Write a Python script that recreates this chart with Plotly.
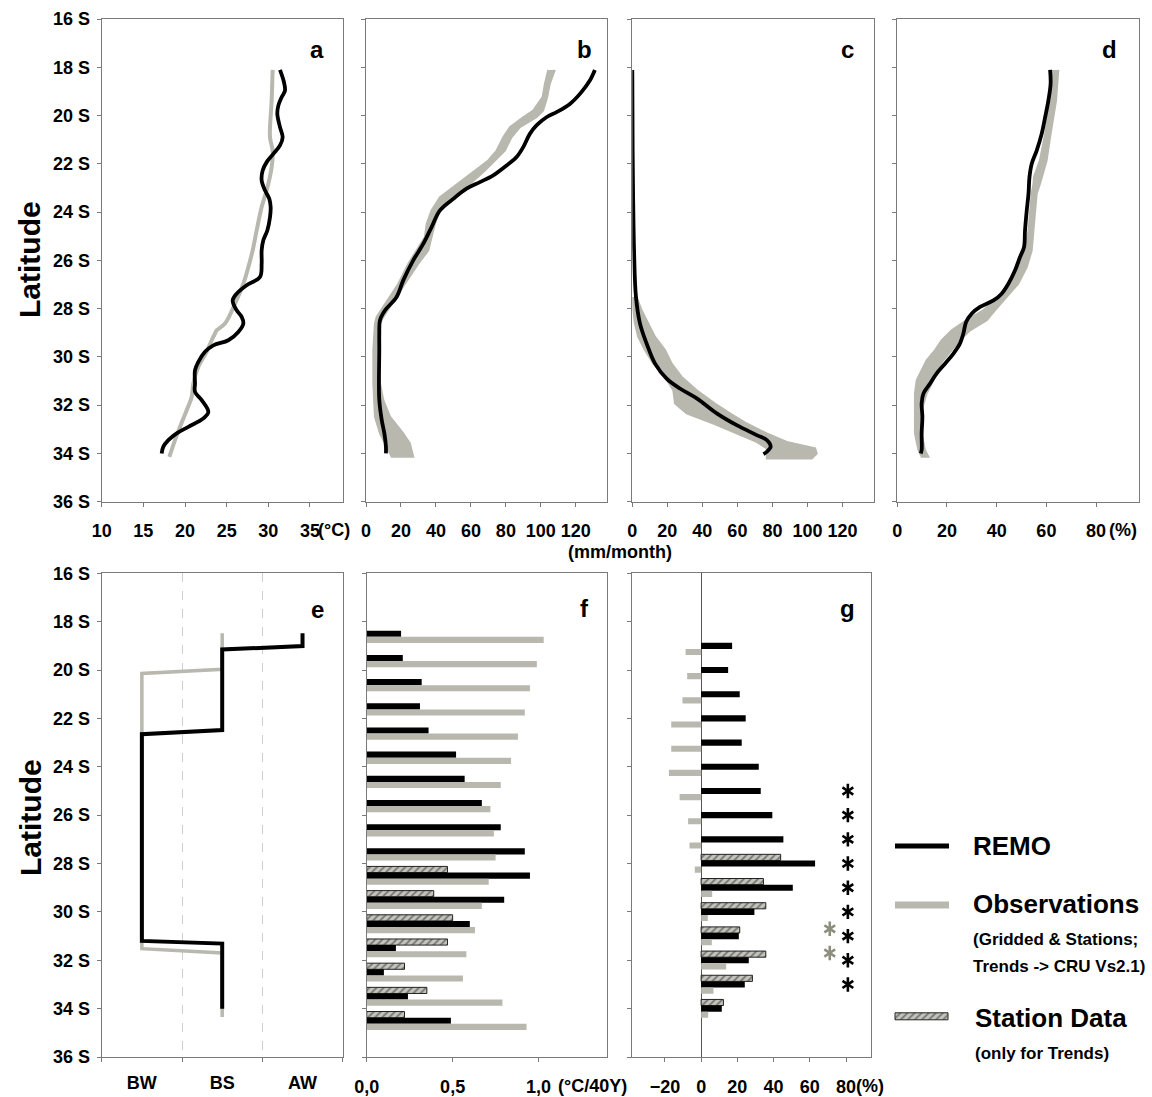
import plotly.graph_objects as go

W, H = 1152, 1097
FONT = "Liberation Sans, Arial, Helvetica, sans-serif"
BLACK = "#000000"
GREY = "#b8b8af"
AXC = "#7a7a7a"

# ---------------- data ----------------
lat_tickvals = [16, 18, 20, 22, 24, 26, 28, 30, 32, 34, 36]
lat_ticktext = ["16 S", "18 S", "20 S", "22 S", "24 S", "26 S", "28 S", "30 S", "32 S", "34 S", "36 S"]

# (a) temperature, degC
a_remo_lat = [18.11, 18.62, 18.97, 19.24, 19.59, 19.93, 20.48, 20.90, 21.24, 21.59, 21.93, 22.28, 22.69, 23.10, 23.45,
              23.79, 24.21, 24.76, 25.17, 25.59, 26.14, 26.69, 27.03, 27.38, 27.66, 28.07, 28.34, 28.62, 28.97, 29.31,
              29.52, 29.79, 30.21, 30.55, 31.10, 31.45, 31.79, 32.28, 32.55, 32.90, 33.17, 33.45, 33.72, 34.0]
a_remo_val = [31.4, 31.88, 32.0, 31.6, 31.2, 31.08, 31.4, 31.72, 31.4, 30.6, 29.8, 29.32, 29.2, 29.6, 30.12,
              30.28, 30.2, 29.88, 29.4, 29.2, 29.2, 29.0, 27.4, 26.2, 25.72, 26.2, 26.8, 27.0, 26.4, 25.2,
              23.4, 22.4, 21.6, 21.2, 21.2, 21.2, 22.0, 22.8, 22.2, 20.4, 19.0, 18.0, 17.4, 17.2]
a_obs_lat = [18.11, 19.38, 20.90, 21.45, 22.14, 23.10, 23.79, 24.76, 25.59, 26.28, 26.97, 27.79, 28.62, 28.90, 29.03,
             29.31, 29.79, 30.41, 31.10, 31.66, 32.21, 32.90, 33.45, 34.14]
a_obs_val = [30.52, 30.4, 30.2, 30.52, 30.4, 29.8, 29.2, 28.6, 28.12, 27.6, 27.0, 26.0, 24.8, 23.8, 23.6,
             23.2, 22.6, 21.6, 21.0, 20.8, 20.2, 19.4, 18.8, 18.12]

# (b) precipitation, mm/month
b_remo_lat = [18.11, 18.55, 19.03, 19.52, 19.86, 20.07, 20.41, 20.76, 21.31, 21.72, 22.07, 22.48, 22.76, 23.03, 23.45,
              23.93, 24.62, 25.31, 26.0, 26.83, 27.52, 28.07, 28.48, 29.03, 29.72, 31.10, 31.79, 32.62, 33.17, 33.72, 34.0]
b_remo_val = [130.9, 128.0, 123.2, 116.6, 109.0, 103.2, 97.5, 93.7, 89.9, 86.1, 80.4, 72.8, 65.1, 57.5, 49.9,
              42.3, 37.5, 32.8, 27.0, 21.3, 17.5, 10.9, 8.0, 7.6, 7.6, 7.4, 7.6, 9.0, 10.5, 11.4, 11.4]
b_obs_lat = [18.11, 18.69, 19.24, 19.79, 20.07, 20.48, 20.90, 21.45, 21.86, 22.28, 22.83, 23.38, 23.93, 24.48, 25.03,
             25.59, 26.14, 26.97, 27.79, 28.34, 28.62, 29.72, 31.10, 31.79, 32.48, 33.17, 33.59, 34.14]
b_obs_lo = [104.2, 102.3, 101.0, 95.6, 89.9, 82.3, 78.5, 74.7, 69.9, 62.3, 51.8, 42.3, 37.5, 34.7, 33.7,
            29.0, 24.2, 18.5, 10.9, 6.1, 5.1, 4.2, 4.2, 4.6, 5.1, 8.0, 10.9, 14.7]
b_obs_hi = [108.0, 105.1, 103.6, 101.3, 97.5, 88.0, 83.2, 79.4, 73.7, 68.0, 59.4, 48.0, 42.3, 39.4, 37.5,
            35.6, 29.9, 22.3, 14.7, 9.9, 8.0, 7.0, 8.0, 9.9, 13.7, 21.3, 25.1, 27.0]

# (c) precipitation, mm/month
c_remo_lat = [18.11, 21.45, 25.59, 27.52, 28.62, 29.45, 30.28, 30.90, 31.31, 31.72, 32.34, 32.83, 33.24, 33.45, 33.72,
              33.93, 34.03]
c_remo_val = [0.0, 0.2, 1.0, 2.1, 4.4, 8.2, 13.0, 19.6, 27.2, 36.8, 48.2, 59.6, 71.0, 76.8, 79.0, 76.8, 74.9]
c_obs_lat = [27.52, 28.07, 28.62, 29.17, 29.72, 30.28, 30.83, 31.38, 31.93, 32.34, 32.76, 33.17, 33.52, 33.79, 34.0, 34.21]
c_obs_lo = [0.2, 0.6, 1.5, 3.4, 7.2, 12.0, 18.7, 23.4, 24.4, 31.0, 46.3, 59.6, 71.0, 76.8, 76.8, 76.8]
c_obs_hi = [2.5, 5.3, 9.1, 13.0, 18.7, 22.5, 28.2, 36.8, 47.2, 55.8, 65.3, 76.8, 88.2, 104.4, 105.3, 102.5]

# (d) percent
d_remo_lat = [18.11, 18.69, 19.38, 20.07, 20.76, 21.45, 22.0, 22.55, 23.24, 23.93, 24.76, 25.45, 25.86, 26.41, 26.97,
              27.38, 27.66, 27.93, 28.21, 28.55, 29.03, 29.45, 29.86, 30.28, 30.69, 31.10, 31.52, 31.93, 32.48, 33.17,
              33.86, 34.0]
d_remo_val = [61.5, 61.7, 60.8, 59.5, 58.1, 56.1, 54.1, 53.2, 52.8, 52.1, 51.4, 51.0, 49.4, 47.4, 44.7,
              42.0, 38.7, 33.3, 29.9, 27.7, 26.6, 25.2, 22.6, 19.2, 15.8, 13.2, 10.5, 9.8, 10.1, 9.8, 9.8, 9.4]
d_obs_lat = [18.11, 19.38, 20.76, 21.86, 22.55, 22.83, 23.24, 23.93, 24.76, 25.59, 26.28, 26.97, 27.52, 28.07, 28.48,
             28.90, 29.31, 29.72, 30.14, 30.55, 30.97, 31.52, 32.21, 33.17, 33.86, 34.14]
d_obs_lo = [62.6, 61.5, 59.5, 57.4, 55.0, 54.8, 54.1, 53.4, 52.8, 51.4, 48.7, 45.4, 40.7, 34.6, 27.9,
            21.9, 17.9, 15.2, 11.8, 9.8, 7.8, 7.1, 7.1, 7.1, 8.5, 9.8]
d_obs_hi = [64.8, 63.9, 61.7, 60.1, 58.1, 57.4, 56.1, 55.4, 54.8, 54.1, 52.1, 48.7, 44.0, 39.3, 36.0,
            29.3, 25.2, 21.9, 18.5, 15.8, 14.5, 11.8, 9.8, 9.8, 11.1, 12.5]

# (e) climate class (0 = BW, 1 = BS, 2 = AW)
climate_classes = ["BW", "BS", "AW"]
e_remo_lat = [18.48, 19.01, 19.15, 22.48, 22.65, 31.20, 31.31, 34.0]
e_remo_cls = [2, 2, 1, 1, 0, 0, 1, 1]
e_obs_lat = [18.48, 19.97, 20.14, 31.52, 31.70, 34.35]
e_obs_cls = [1, 1, 0, 0, 1, 1]

# (f) temperature trend, degC / 40 years
f_lat = [18.5, 19.5, 20.5, 21.5, 22.5, 23.5, 24.5, 25.5, 26.5, 27.5, 28.5, 29.5, 30.5, 31.5, 32.5, 33.5, 34.5]
f_remo = [0.20, 0.21, 0.32, 0.31, 0.36, 0.52, 0.57, 0.67, 0.78, 0.92, 0.95, 0.80, 0.60, 0.17, 0.10, 0.24, 0.49]
f_obs = [1.03, 0.99, 0.95, 0.92, 0.88, 0.84, 0.78, 0.72, 0.74, 0.75, 0.71, 0.67, 0.63, 0.58, 0.56, 0.79, 0.93]
f_station = [None, None, None, None, None, None, None, None, None, None, 0.47, 0.39, 0.50, 0.47, 0.22, 0.35, 0.22]

# (g) precipitation trend, %
g_lat = [19, 20, 21, 22, 23, 24, 25, 26, 27, 28, 29, 30, 31, 32, 33, 34]
g_remo = [17.1, 14.9, 21.3, 24.6, 22.4, 31.8, 32.9, 39.3, 45.4, 62.9, 50.6, 29.4, 20.8, 26.3, 24.1, 11.4]
g_obs = [-8.6, -7.7, -10.3, -16.5, -16.5, -17.8, -11.9, -7.2, -6.4, -3.5, 6.1, 3.7, 5.9, 13.8, 6.8, 3.9]
g_station = [None, None, None, None, None, None, None, None, None, 43.9, 34.4, 35.7, 21.3, 35.7, 28.3, 12.3]
g_sig_remo_lat = [25, 26, 27, 28, 29, 30, 31, 32, 33]
g_sig_obs_lat = [31, 32]

# ---------------- layout helpers ----------------
def xd(l, r):
    return [l / W, r / W]


def yd(t, b):
    return [1 - b / H, 1 - t / H]


TOP = (19, 501.7)
BOT = (573.3, 1057)
PANELS = {
    1: ((101.7, 343.3), TOP),
    2: ((366, 607.3), TOP),
    3: ((632.3, 874), TOP),
    4: ((897.3, 1139.3), TOP),
    5: ((101.7, 342.7), BOT),
    6: ((366.7, 607.3), BOT),
    7: ((632.3, 870.7), BOT),
}
TICKFONT = dict(family=FONT, size=18, color="black", weight="bold")

fig = go.Figure()


def ax(i):
    return ("x" if i == 1 else f"x{i}"), ("y" if i == 1 else f"y{i}")


def line(i, x, y, color, width, shape="spline"):
    xa, ya = ax(i)
    fig.add_trace(go.Scatter(x=x, y=y, mode="lines", xaxis=xa, yaxis=ya,
                             line=dict(color=color, width=width, shape=shape), hoverinfo="skip"))


def band(i, lat, lo, hi):
    xa, ya = ax(i)
    fig.add_trace(go.Scatter(x=list(lo) + list(hi)[::-1], y=list(lat) + list(lat)[::-1],
                             mode="lines", fill="toself", fillcolor=GREY, xaxis=xa, yaxis=ya,
                             line=dict(color=GREY, width=2), hoverinfo="skip"))


# a
line(1, a_obs_val, a_obs_lat, GREY, 4)
line(1, a_remo_val, a_remo_lat, BLACK, 3.8)
# b
band(2, b_obs_lat, b_obs_lo, b_obs_hi)
line(2, b_remo_val, b_remo_lat, BLACK, 3.8)
# c
band(3, c_obs_lat, c_obs_lo, c_obs_hi)
line(3, c_remo_val, c_remo_lat, BLACK, 3.8)
# d
band(4, d_obs_lat, d_obs_lo, d_obs_hi)
line(4, d_remo_val, d_remo_lat, BLACK, 3.8)
# e
line(5, e_obs_cls, e_obs_lat, GREY, 3.5, "linear")
line(5, e_remo_cls, e_remo_lat, BLACK, 4, "linear")

HATCH = dict(color="#c4c4bc", pattern=dict(shape="/", fgcolor="#2b2b2b", bgcolor="#c4c4bc", size=5, solidity=0.35),
             line=dict(color="#222222", width=1))


def bars(i, lat, station, remo, obs):
    xa, ya = ax(i)
    fig.add_trace(go.Bar(y=lat, x=station, orientation="h", xaxis=xa, yaxis=ya, marker=HATCH, hoverinfo="skip"))
    fig.add_trace(go.Bar(y=lat, x=remo, orientation="h", xaxis=xa, yaxis=ya,
                         marker=dict(color=BLACK, line=dict(width=0)), hoverinfo="skip"))
    fig.add_trace(go.Bar(y=lat, x=obs, orientation="h", xaxis=xa, yaxis=ya,
                         marker=dict(color=GREY, line=dict(width=0)), hoverinfo="skip"))


bars(6, f_lat, f_station, f_remo, f_obs)
bars(7, g_lat, g_station, g_remo, g_obs)

# significance asterisks in (g): six-armed stars built from two marker glyphs
SIG_X_REMO, SIG_X_OBS = 81, 71


def stars(x, lats, color, size, lw):
    for sym in ("y-up-open", "y-down-open"):
        fig.add_trace(go.Scatter(x=[x] * len(lats), y=lats, mode="markers", xaxis="x7", yaxis="y7",
                                 marker=dict(symbol=sym, size=size, color=color, line=dict(color=color, width=lw)),
                                 hoverinfo="skip", cliponaxis=False))


stars(SIG_X_REMO, g_sig_remo_lat, BLACK, 9, 2.6)
stars(SIG_X_OBS, [v - 0.3 for v in g_sig_obs_lat], "#8e8e7e", 9, 2.6)

# ---------------- axes ----------------
x_specs = {
    1: dict(range=[10, 39], tickvals=[10, 15, 20, 25, 30, 35]),
    2: dict(range=[0, 138], tickvals=[0, 20, 40, 60, 80, 100, 120]),
    3: dict(range=[0, 138], tickvals=[0, 20, 40, 60, 80, 100, 120]),
    4: dict(range=[0, 97.4], tickvals=[0, 20, 40, 60, 80]),
    5: dict(range=[-0.5, 2.5], tickvals=[0, 1, 2], ticktext=climate_classes, ticks="",
            minor=dict(tickmode="array", tickvals=[-0.5, 0.5, 1.5, 2.5], ticks="outside", ticklen=4,
                       tickcolor=AXC, showgrid=True, gridcolor="#cfcfcf", griddash="dash", gridwidth=1)),
    6: dict(range=[0, 1.40], tickvals=[0, 0.5, 1.0], ticktext=["0,0", "0,5", "1,0"]),
    7: dict(range=[-38, 93.6], tickvals=[-20, 0, 20, 40, 60, 80], zeroline=True, zerolinecolor="#555555",
            zerolinewidth=1),
}

layout_axes = {}
for i, ((l, r), (t, b)) in PANELS.items():
    xa, ya = ax(i)
    xk = "xaxis" if i == 1 else f"xaxis{i}"
    yk = "yaxis" if i == 1 else f"yaxis{i}"
    xs = dict(domain=xd(l, r), anchor=ya, tickmode="array", ticks="outside", ticklen=4, tickwidth=1,
              tickcolor=AXC, showline=True, linecolor=AXC, linewidth=1, mirror=True, showgrid=False,
              zeroline=False, tickfont=TICKFONT, ticklabelstandoff=9, fixedrange=True, automargin=False)
    xs.update(x_specs[i])
    layout_axes[xk] = xs
    layout_axes[yk] = dict(domain=yd(t, b), anchor=xa, range=[36, 16], tickmode="array",
                           tickvals=lat_tickvals, ticktext=lat_ticktext, showticklabels=(i in (1, 5)),
                           ticks="outside", ticklen=4, tickwidth=1, tickcolor=AXC, showline=True,
                           linecolor=AXC, linewidth=1, mirror=True, showgrid=False, zeroline=False,
                           tickfont=TICKFONT, ticklabelstandoff=3, fixedrange=True, automargin=False)

# legend pseudo-axes (pixel coordinates)
layout_axes["xaxis8"] = dict(domain=[880 / W, 1], anchor="y8", range=[880, 1152], visible=False,
                             fixedrange=True, automargin=False)
layout_axes["yaxis8"] = dict(domain=[0, 1 - 800 / H], anchor="x8", range=[1097, 800], visible=False,
                             fixedrange=True, automargin=False)

fig.add_trace(go.Scatter(x=[895, 949], y=[846, 846], mode="lines", xaxis="x8", yaxis="y8",
                         line=dict(color=BLACK, width=5), hoverinfo="skip"))
fig.add_trace(go.Scatter(x=[895, 949], y=[905, 905], mode="lines", xaxis="x8", yaxis="y8",
                         line=dict(color=GREY, width=7), hoverinfo="skip"))
fig.add_trace(go.Bar(y=[1016.3], x=[53], base=[895], width=[7], orientation="h", xaxis="x8", yaxis="y8",
                     marker=HATCH, hoverinfo="skip"))

# ---------------- annotations ----------------
ann = []


def text(x, y, s, size, xanchor="center", color="black", textangle=0):
    ann.append(dict(x=x / W, y=1 - y / H, xref="paper", yref="paper", text=s, showarrow=False,
                    xanchor=xanchor, yanchor="middle", textangle=textangle,
                    font=dict(family=FONT, size=size, color=color, weight="bold")))


for letter, (x, y) in zip("abcdefg", [(317, 50), (584, 50), (847, 50), (1109, 50), (317, 609), (584, 608),
                                       (847, 608)]):
    text(x, y, letter, 24)

text(30, 260, "Latitude", 30, textangle=-90)
text(30, 818, "Latitude", 30, textangle=-90)

text(316, 530, "(°C)", 18, xanchor="left")
text(620, 552, "(mm/month)", 18)
text(1107, 530, "(%)", 18, xanchor="left")
text(556, 1086, "(°C/40Y)", 18, xanchor="left")
text(854, 1086, "(%)", 18, xanchor="left")

# legend texts
text(971, 846, "REMO", 26, xanchor="left")
text(971, 904, "Observations", 26, xanchor="left")
text(971, 939, "(Gridded &amp; Stations;", 17, xanchor="left")
text(971, 966, "Trends -&gt; CRU Vs2.1)", 17, xanchor="left")
text(973, 1018, "Station Data", 26, xanchor="left")
text(973, 1053, "(only for Trends)", 17, xanchor="left")

fig.update_layout(
    width=W, height=H, margin=dict(l=0, r=0, t=0, b=0, autoexpand=False),
    paper_bgcolor="white", plot_bgcolor="white", showlegend=False,
    barmode="group", bargap=0.24, bargroupgap=0.0,
    font=dict(family=FONT, color="black"),
    annotations=ann,
    **layout_axes,
)

fig.write_html("out.html")
